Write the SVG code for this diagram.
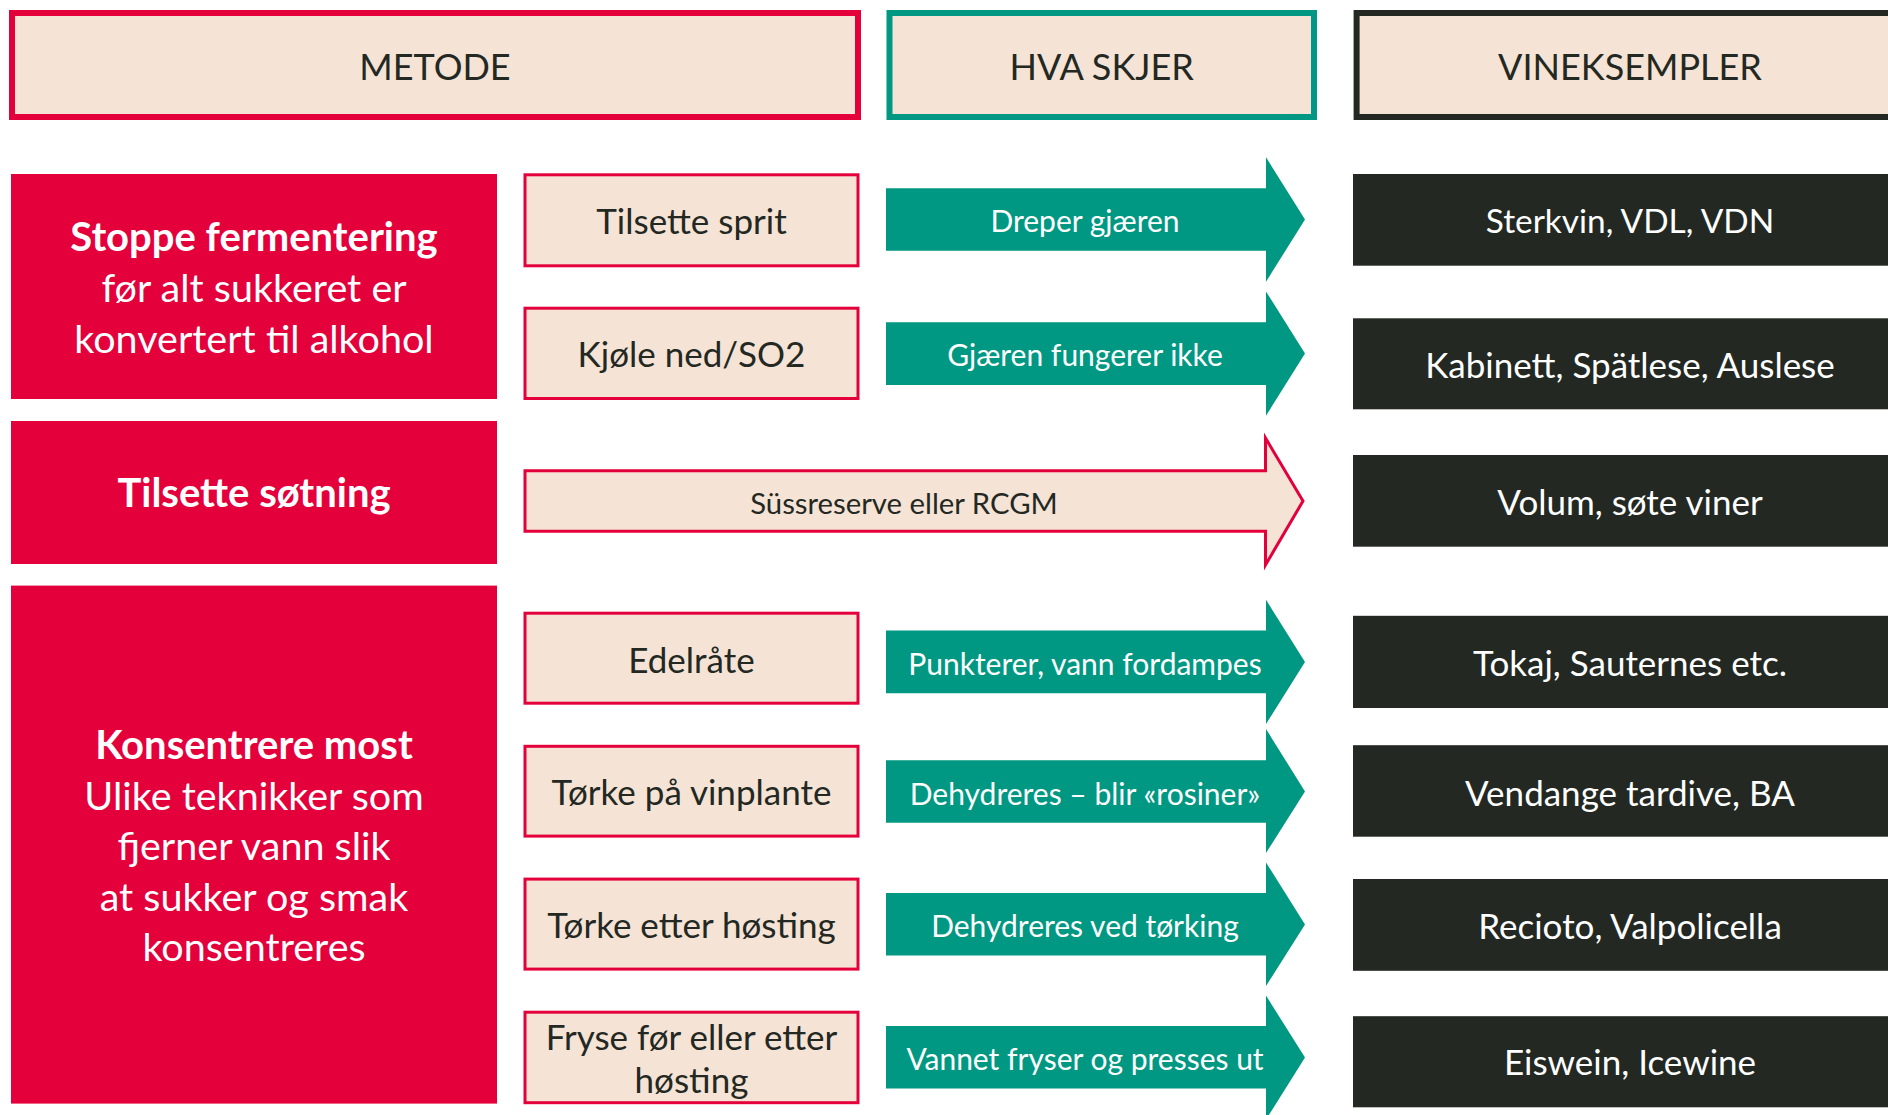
<svg xmlns="http://www.w3.org/2000/svg" width="1888" height="1115" viewBox="0 0 1888 1115">
<style>
text{font-family:Lato,"Open Sans","Liberation Sans",sans-serif;text-anchor:middle}
.hdr{fill:#F5E3D5;stroke-width:6}
.hdrt{font-size:36px;fill:#232823}
.red{fill:#E4003B}
.redt{font-size:39.5px;fill:#FFFFFF}
.b{font-weight:bold;font-size:40px}
.meth{fill:#F5E3D5;stroke:#E4003B;stroke-width:3}
.metht{font-size:35px;fill:#232823}
.teal{fill:#009882}
.tealt{font-size:30px;fill:#FFFFFF}
.dark{fill:#232823}
.darkt{font-size:35px;fill:#FFFFFF}
.suss{fill:#F5E3D5;stroke:#E4003B;stroke-width:3}
.susst{font-size:29.3px;fill:#232823}
</style>
<rect width="1888" height="1115" fill="#FFFFFF"/>
<g id="header-metode"><rect class="hdr" x="12" y="13" width="846" height="104" stroke="#E4003B"/><text class="hdrt" x="435" y="80">METODE</text></g>
<g id="header-hva-skjer"><rect class="hdr" x="889.5" y="13" width="424.5" height="104" stroke="#009882"/><text class="hdrt" x="1101.7" y="80">HVA SKJER</text></g>
<g id="header-vineksempler"><rect class="hdr" x="1356.6" y="13" width="600" height="104" stroke="#232823"/><text class="hdrt" x="1630" y="80">VINEKSEMPLER</text></g>

<g id="method-stoppe"><rect class="red" x="11" y="174" width="486" height="225"/>
<text class="redt b" x="254" y="251">Stoppe fermentering</text>
<text class="redt" x="254" y="302">før alt sukkeret er</text>
<text class="redt" x="254" y="353">konvertert til alkohol</text></g>
<g id="method-sotning"><rect class="red" x="11" y="421" width="486" height="143"/>
<text class="redt b" x="254" y="507">Tilsette søtning</text></g>
<g id="method-konsentrere"><rect class="red" x="11" y="585.6" width="486" height="518"/>
<text class="redt b" x="254" y="759">Konsentrere most</text>
<text class="redt" x="254" y="809.5">Ulike teknikker som</text>
<text class="redt" x="254" y="860">fjerner vann slik</text>
<text class="redt" x="254" y="910.5">at sukker og smak</text>
<text class="redt" x="254" y="961">konsentreres</text></g>

<g id="tech-sprit"><rect class="meth" x="525" y="174.8" width="333" height="91"/><text class="metht" x="691.5" y="234">Tilsette sprit</text></g>
<g id="tech-kjole"><rect class="meth" x="525" y="308.2" width="333" height="90.3"/><text class="metht" x="691.5" y="366.5">Kjøle ned/SO2</text></g>
<g id="tech-edelrate"><rect class="meth" x="525" y="613.2" width="333" height="90"/><text class="metht" x="691.5" y="673">Edelråte</text></g>
<g id="tech-torke-vinplante"><rect class="meth" x="525" y="746.3" width="333" height="89.8"/><text class="metht" x="691.5" y="804.5">Tørke på vinplante</text></g>
<g id="tech-torke-hosting"><rect class="meth" x="525" y="879.1" width="333" height="90"/><text class="metht" x="691.5" y="938">Tørke etter høsting</text></g>
<g id="tech-fryse"><rect class="meth" x="525" y="1012.2" width="333" height="90.5"/><text class="metht" x="691.5" y="1049.5">Fryse før eller etter</text><text class="metht" x="691.5" y="1093">høsting</text></g>

<g id="connectors">
<g id="arrow-dreper"><polygon class="teal" points="886,188.3 1266,188.3 1266,157.3 1305,219.5 1266,281.7 1266,250.7 886,250.7"/><text class="tealt" x="1085" y="232">Dreper gjæren</text></g>
<g id="arrow-gjaeren"><polygon class="teal" points="886,322.3 1266,322.3 1266,291.5 1305,353.5 1266,415.7 1266,385 886,385"/><text class="tealt" x="1085" y="365.5">Gjæren fungerer ikke</text></g>
<g id="arrow-suss"><polygon class="suss" points="525,470.8 1265.5,470.8 1265.5,438 1303,501 1265.5,565 1265.5,531.2 525,531.2"/><text class="susst" x="904" y="514">Süssreserve eller RCGM</text></g>
<g id="arrow-punkterer"><polygon class="teal" points="886,630.5 1266,630.5 1266,599.8 1305,662 1266,724 1266,693.3 886,693.3"/><text class="tealt" x="1085" y="675">Punkterer, vann fordampes</text></g>
<g id="arrow-rosiner"><polygon class="teal" points="886,760.2 1266,760.2 1266,729 1305,791.5 1266,853 1266,822.7 886,822.7"/><text class="tealt" x="1085" y="804.5">Dehydreres – blir «rosiner»</text></g>
<g id="arrow-torking"><polygon class="teal" points="886,893 1266,893 1266,862.5 1305,924.5 1266,986 1266,955.4 886,955.4"/><text class="tealt" x="1085" y="937">Dehydreres ved tørking</text></g>
<g id="arrow-fryser"><polygon class="teal" points="886,1026 1266,1026 1266,995.6 1305,1057.5 1266,1119.5 1266,1088.5 886,1088.5"/><text class="tealt" x="1085" y="1070">Vannet fryser og presses ut</text></g>
</g>

<g id="ex-sterkvin"><rect class="dark" x="1353" y="174" width="535" height="91.7"/><text class="darkt" x="1630" y="233" style="font-size:33.4px">Sterkvin, VDL, VDN</text></g>
<g id="ex-kabinett"><rect class="dark" x="1353" y="318.3" width="535" height="91"/><text class="darkt" x="1630" y="378">Kabinett, Spätlese, Auslese</text></g>
<g id="ex-volum"><rect class="dark" x="1353" y="455" width="535" height="91.7"/><text class="darkt" x="1630" y="514.5">Volum, søte viner</text></g>
<g id="ex-tokaj"><rect class="dark" x="1353" y="615.8" width="535" height="92.2"/><text class="darkt" x="1630" y="676">Tokaj, Sauternes etc.</text></g>
<g id="ex-vendange"><rect class="dark" x="1353" y="745.2" width="535" height="91.5"/><text class="darkt" x="1630" y="805.5">Vendange tardive, BA</text></g>
<g id="ex-recioto"><rect class="dark" x="1353" y="879" width="535" height="91.8"/><text class="darkt" x="1630" y="938.5">Recioto, Valpolicella</text></g>
<g id="ex-eiswein"><rect class="dark" x="1353" y="1016.2" width="535" height="91.1"/><text class="darkt" x="1630" y="1075">Eiswein, Icewine</text></g>
</svg>
